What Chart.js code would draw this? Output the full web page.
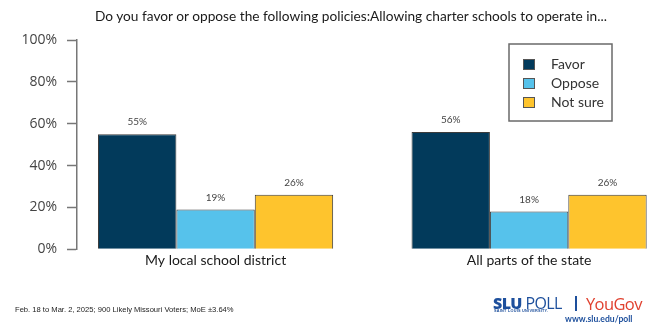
<!DOCTYPE html>
<html>
<head>
<meta charset="utf-8">
<script src="https://cdn.jsdelivr.net/npm/chart.js@4/dist/chart.umd.min.js"></script>
<style>
  html, body { margin: 0; padding: 0; background: #fff; }
  #wrap { position: relative; width: 649px; height: 327px; overflow: hidden; }
  #chart { position: absolute; left: 0; top: 0; }
  .title { position: absolute; left: 95px; top: 7px; font: 13.7px Lato, sans-serif; color: #1a1a1a; white-space: nowrap; }
  .note { position: absolute; left: 15px; top: 305px; font: 7.6px "Liberation Sans", Arial, sans-serif; color: #222; white-space: nowrap; }
  .slu { position: absolute; left: 493px; top: 292px; font: 16px "Open Sans", sans-serif; color: #1d4f9c; white-space: nowrap; letter-spacing: -0.6px; }
  .slu b { font-weight: 800; }
  .slu-sub { position: absolute; left: 494px; top: 309px; font: bold 3.8px "Liberation Sans", Arial, sans-serif; color: #1d4f9c; letter-spacing: 0.25px; white-space: nowrap; }
  .bar { position: absolute; left: 575px; top: 296px; width: 2px; height: 15px; background: #1d4f9c; }
  .yougov { position: absolute; left: 586px; top: 292px; font: 16.5px "Open Sans", sans-serif; color: #e0412f; letter-spacing: -0.6px; white-space: nowrap; }
  .url { position: absolute; left: 565px; top: 314px; font: bold 8.6px Lato, sans-serif; color: #1d4f9c; white-space: nowrap; }
</style>
</head>
<body>
<div id="wrap">
  <canvas id="chart" width="649" height="327"></canvas>
  <div class="title">Do you favor or oppose the following policies:Allowing charter schools to operate in...</div>
  <div class="note">Feb. 18 to Mar. 2, 2025; 900 Likely Missouri Voters; MoE ±3.64%</div>
  <div class="slu"><b>SLU</b> POLL</div>
  <div class="slu-sub">SAINT LOUIS UNIVERSITY.</div>
  <div class="bar"></div>
  <div class="yougov">YouGov</div>
  <div class="url">www.slu.edu/poll</div>
</div>
<script>
const categories = ['My local school district', 'All parts of the state'];
const seriesNames = ['Favor', 'Oppose', 'Not sure'];
const favor = [55, 56];
const oppose = [19, 18];
const notSure = [26, 26];
const yTicks = [0, 20, 40, 60, 80, 100];

const colors = ['#023a5b', '#56c2eb', '#fec42d'];

// x runs on a linear scale so the two groups can sit off-centre like the original layout
const xMin = -0.442;
const xMax = 1.376;

const toPoints = (values) => values.map((y, i) => ({ x: i, y: y }));

const valueLabels = {
  id: 'valueLabels',
  afterDatasetsDraw(chart) {
    const ctx = chart.ctx;
    ctx.save();
    ctx.font = '10px Lato, sans-serif';
    ctx.fillStyle = '#444';
    ctx.textAlign = 'center';
    ctx.textBaseline = 'middle';
    chart.data.datasets.forEach((ds, i) => {
      chart.getDatasetMeta(i).data.forEach((bar, j) => {
        ctx.fillText(ds.data[j].y + '%', bar.x, bar.y - 12);
      });
    });
    ctx.restore();
  }
};

// boxed legend in the top right of the plot
const boxLegend = {
  id: 'boxLegend',
  afterDraw(chart) {
    const ctx = chart.ctx;
    const left = 509, top = 44, w = 103, h = 77;
    ctx.save();
    ctx.strokeStyle = '#6a6a6a';
    ctx.lineWidth = 1.5;
    ctx.strokeRect(left, top, w, h);
    ctx.font = '14px Lato, sans-serif';
    ctx.textBaseline = 'middle';
    chart.data.datasets.forEach((ds, i) => {
      const cy = top + 20.5 + i * 19;
      ctx.fillStyle = ds.backgroundColor;
      ctx.fillRect(523.5, cy - 5, 11, 10);
      ctx.strokeStyle = '#555';
      ctx.lineWidth = 1;
      ctx.strokeRect(523.5, cy - 5, 11, 10);
      ctx.fillStyle = '#333';
      ctx.fillText(ds.label, 551, cy);
    });
    ctx.restore();
  }
};

const datasets = [favor, oppose, notSure].map((values, i) => ({
  label: seriesNames[i],
  data: toPoints(values),
  backgroundColor: colors[i],
  borderColor: '#3c3c3c',
  borderWidth: 1,
  categoryPercentage: 0.75,
  barPercentage: 1.0
}));

new Chart(document.getElementById('chart'), {
  type: 'bar',
  data: { datasets: datasets },
  options: {
    responsive: false,
    animation: false,
    layout: { padding: { top: 40, right: 2, bottom: 55, left: 0 } },
    plugins: {
      legend: { display: false },
      tooltip: { enabled: false }
    },
    scales: {
      x: {
        type: 'linear',
        min: xMin,
        max: xMax,
        offset: false,
        grid: { display: false, drawTicks: false },
        border: { display: false },
        afterBuildTicks: (scale) => {
          scale.ticks = categories.map((c, i) => ({ value: i }));
        },
        ticks: {
          autoSkip: false,
          maxRotation: 0,
          padding: 3,
          color: '#1a1a1a',
          font: { family: 'Lato', size: 14 },
          callback: (value) => categories[value]
        }
      },
      y: {
        min: 0,
        max: 100,
        afterBuildTicks: (scale) => {
          scale.ticks = yTicks.map((v) => ({ value: v }));
        },
        afterFit: (scale) => { scale.width = 77; },
        grid: {
          drawOnChartArea: false,
          tickLength: 10,
          tickWidth: 1.5,
          color: '#777'
        },
        border: { color: '#777', width: 1.5 },
        ticks: {
          padding: 10,
          color: '#444',
          font: { family: 'Open Sans', size: 14 },
          callback: (value) => value + '%'
        }
      }
    }
  },
  plugins: [valueLabels, boxLegend]
});
</script>
</body>
</html>
